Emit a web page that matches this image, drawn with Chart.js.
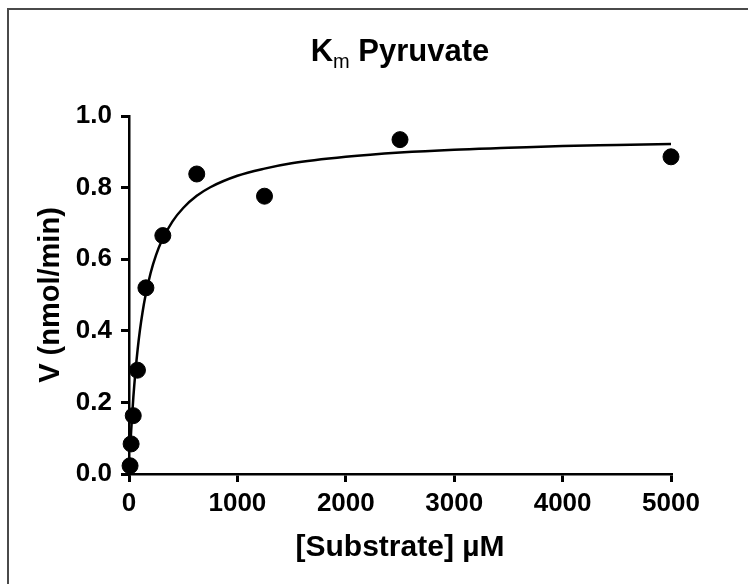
<!DOCTYPE html>
<html>
<head>
<meta charset="utf-8">
<script src="https://cdn.jsdelivr.net/npm/chart.js@4"></script>
<style>
  html, body { margin: 0; padding: 0; background: #fff; }
  #wrap { position: relative; width: 748px; height: 584px; overflow: hidden; }
  #frame { position: absolute; left: 7px; top: 8px; width: 760px; height: 600px;
           border-top: 2px solid #4a4a4a; border-left: 2px solid #4a4a4a; }
  #title { position: absolute; left: 129px; width: 542px; top: 35px; text-align: center;
           font: bold 31px "Liberation Sans", Arial, sans-serif; line-height: 31px; color: #000; }
  #title sub { font-size: 20px; font-weight: normal; vertical-align: -7px; line-height: 0; }
  canvas { position: absolute; left: 0; top: 0; }
</style>
</head>
<body>
<div id="wrap">
  <div id="frame"></div>
  <canvas id="km" width="748" height="584"></canvas>
  <div id="title">K<sub>m</sub> Pyruvate</div>
</div>
<script>
// measured points
const substrate = [9.77, 19.5, 39.1, 78.1, 156, 312, 625, 1250, 2500, 5000];
const velocity = [0.023, 0.084, 0.163, 0.29, 0.52, 0.666, 0.838, 0.776, 0.934, 0.886];

// fitted curve
const fitX = [10, 20, 40, 60, 80, 100, 125, 150, 200, 250, 300, 400, 500, 625, 750, 1000, 1250, 1500, 2000, 2500, 3000, 3500, 4000, 4500, 5000];
const fitY = [0.064, 0.121, 0.214, 0.288, 0.349, 0.400, 0.452, 0.495, 0.562, 0.612, 0.650, 0.705, 0.743, 0.777, 0.801, 0.833, 0.853, 0.868, 0.886, 0.898, 0.906, 0.911, 0.916, 0.919, 0.922];

const xTicks = [0, 1000, 2000, 3000, 4000, 5000];
const yTicks = [0.0, 0.2, 0.4, 0.6, 0.8, 1.0];

const FONT = '"Liberation Sans", Arial, sans-serif';

document.addEventListener('DOMContentLoaded', () => {
    const ctx = document.getElementById('km').getContext('2d');
    new Chart(ctx, {
        type: 'scatter',
        data: {
            datasets: [{
                type: 'line',
                data: fitX.map((x, i) => ({ x: x, y: fitY[i] })),
                borderColor: '#000',
                borderWidth: 2.5,
                pointRadius: 0,
                fill: false,
                cubicInterpolationMode: 'monotone',
                clip: false
            }, {
                data: substrate.map((x, i) => ({ x: x, y: velocity[i] })),
                backgroundColor: '#000',
                borderColor: '#000',
                pointRadius: 8,
                pointHoverRadius: 8,
                clip: false
            }]
        },
        options: {
            responsive: false,
            animation: false,
            events: [],
            layout: { padding: { left: 0, right: 77, top: 116, bottom: 0 } },
            plugins: { legend: { display: false }, tooltip: { enabled: false } },
            scales: {
                x: {
                    type: 'linear',
                    min: 0,
                    max: 5000,
                    afterBuildTicks: s => { s.ticks = xTicks.map(v => ({ value: v })); },
                    afterFit: s => { s.height = 110; },
                    border: { display: true, color: '#000', width: 2.5 },
                    grid: { drawOnChartArea: false, drawTicks: true, tickLength: 8, color: '#000', lineWidth: 3 },
                    ticks: { color: '#000', padding: 6, maxRotation: 0, font: { family: FONT, size: 26, weight: 'bold' },
                             callback: v => String(v) },
                    title: { display: true, text: '[Substrate] µM', color: '#000',
                             font: { family: FONT, size: 30, weight: 'bold' }, padding: { top: 0, bottom: 18 } }
                },
                y: {
                    type: 'linear',
                    min: 0,
                    max: 1,
                    afterBuildTicks: s => { s.ticks = yTicks.map(v => ({ value: v })); },
                    afterFit: s => { s.width = 129; },
                    border: { display: true, color: '#000', width: 2.5 },
                    grid: { drawOnChartArea: false, drawTicks: true, tickLength: 8, color: '#000', lineWidth: 3 },
                    ticks: { color: '#000', padding: 9, font: { family: FONT, size: 26, weight: 'bold' },
                             callback: v => v.toFixed(1) },
                    title: { display: true, text: 'V (nmol/min)', color: '#000',
                             font: { family: FONT, size: 29, weight: 'bold' }, padding: { top: 34, bottom: 0 } }
                }
            }
        }
    });
});
</script>
</body>
</html>
